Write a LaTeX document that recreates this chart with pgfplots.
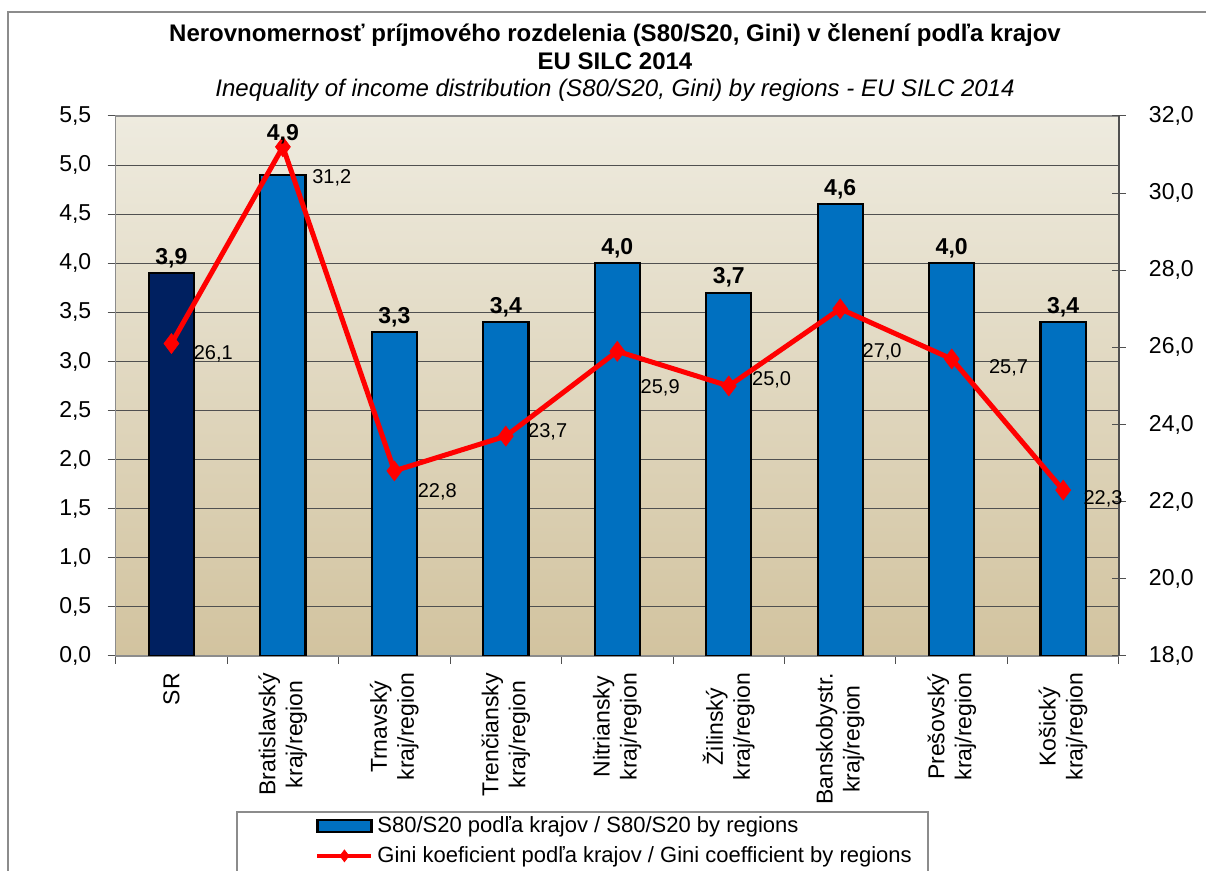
\documentclass[border=0pt]{standalone}
\usepackage{pgfplots}
\usepackage{pgfplotstable}
\pgfplotsset{compat=1.18}
\usepackage{fontspec}
\setmainfont{Liberation Sans}
\definecolor{barblue}{HTML}{0070C0}
\definecolor{bardark}{HTML}{002060}
\definecolor{bgtop}{HTML}{EEEBDF}
\definecolor{bgmid}{HTML}{E6DFCA}
\definecolor{bgbot}{HTML}{D2C39F}
\definecolor{gridc}{HTML}{505050}
\definecolor{framec}{HTML}{8C8C8C}
\pgfplotsset{/pgf/number format/.cd, use comma, fixed, fixed zerofill, precision=1, assume math mode=true}
\pgfplotsset{
  barleg/.style={legend image code/.code={\draw[##1] (0pt,-3pt) rectangle (27pt,3pt);}},
  lineleg/.style={legend image code/.code={\draw[mark repeat=2, mark phase=2, ##1, line width=2pt, mark size=3pt] plot coordinates {(0pt,0pt) (13.5pt,0pt) (27pt,0pt)};}},
  invisible marks/.style={only marks, mark=*, mark size=0pt, mark options={draw=none, fill=none, opacity=0}},
}

\pgfplotstableread{
x y ly
0 3.9 0
}\srdata
\pgfplotstableread{
x y ly
1 4.9 12.5
2 3.3 0
3 3.4 0
4 4.0 0
5 3.7 0
6 4.6 0
7 4.0 0
8 3.4 0
}\regdata
\pgfplotstableread{
x y dx dy
0 26.1 11 -5
1 31.2 14.5 -15.5
2 22.8 11.5 -10.5
3 23.7 11 2
4 25.9 11.5 -18.5
5 25.0 11.5 3
6 27.0 11 -21.5
7 25.7 18.5 -4.5
8 22.3 10 -4.5
}\ginidata

\newcommand{\fs}{\fontsize{11.5}{13.5}\selectfont}
\begin{document}
\begin{tikzpicture}
\path[use as bounding box, clip] (0pt,0pt) rectangle (603pt,435.5pt);
\draw[framec, line width=0.8pt] (4pt,-10pt) -- (4pt,429.5pt) -- (620pt,429.5pt);
\node[font=\fontsize{12}{14}\selectfont\bfseries, anchor=base, inner sep=0pt] at (307.5pt,414.5pt) {Nerovnomernosť príjmového rozdelenia (S80/S20, Gini) v členení podľa krajov};
\node[font=\fontsize{12}{14}\selectfont\bfseries, anchor=base, inner sep=0pt] at (307.5pt,400.5pt) {EU SILC 2014};
\node[font=\fontsize{12}{14}\selectfont\itshape, anchor=base, inner sep=0pt] at (307.5pt,387pt) {Inequality of income distribution (S80/S20, Gini) by regions - EU SILC 2014};

\begin{axis}[
  at={(57.85pt,107.5pt)}, anchor=south west,
  scale only axis, width=501.6pt, height=270pt,
  xmin=-0.5, xmax=8.5, ymin=0, ymax=5.5,
  ytick={0,0.5,1,1.5,2,2.5,3,3.5,4,4.5,5,5.5},
  xtick={0,1,2,3,4,5,6,7,8},
  xticklabels={SR,{Bratislavský\\kraj/region},{Trnavský\\kraj/region},{Trenčiansky\\kraj/region},{Nitriansky\\kraj/region},{Žilinský\\kraj/region},{Banskobystr.\\kraj/region},{Prešovský\\kraj/region},{Košický\\kraj/region}},
  minor xtick={-0.5,0.5,1.5,2.5,3.5,4.5,5.5,6.5,7.5,8.5},
  major x tick style={draw=none},
  minor x tick style={draw=gridc, line width=0.5pt},
  tick pos=left, tick align=outside,
  major tick length=4pt, minor tick length=4pt,
  ymajorgrids, major grid style={draw=gridc, line width=0.5pt},
  axis line style={draw=framec, line width=0.6pt},
  y tick style={draw=gridc, line width=0.5pt},
  axis background/.style={top color=bgtop, middle color=bgmid, bottom color=bgbot},
  ticklabel style={font=\fs},
  yticklabel style={xshift=-4.7pt},
  xticklabel style={rotate=90, anchor=east, align=center, xshift=-1pt},
  ybar, bar width=0.405,
]
\addplot[fill=bardark, draw=black, line width=1.1pt, bar shift=0pt] table[x=x,y=y] {\srdata};
\addplot[fill=barblue, draw=black, line width=1.1pt, bar shift=0pt] table[x=x,y=y] {\regdata};
\end{axis}

\begin{axis}[
  at={(57.85pt,107.5pt)}, anchor=south west,
  scale only axis, width=501.6pt, height=270pt,
  xmin=-0.5, xmax=8.5, ymin=18, ymax=32,
  ytick={18,20,22,24,26,28,30,32},
  axis x line=none, axis y line*=right,
  y axis line style={draw=gridc, line width=0.7pt, -},
  tick align=center, major tick length=7pt,
  y tick style={draw=gridc, line width=0.5pt},
  yticklabel style={font=\fs, xshift=8pt},
  legend style={at={(0.1987,-0.289)}, anchor=north west, draw=none, fill=none,
    inner sep=0pt, row sep=1.5pt, font=\fontsize{11}{13}\selectfont},
  legend cell align=left,
]
\addlegendimage{fill=barblue, draw=black, line width=1.1pt, barleg}
\addlegendentry{S80/S20 podľa krajov / S80/S20 by regions}
\addplot[red, line width=2.5pt, mark=diamond*, mark size=5pt, mark options={solid, draw=red, fill=red, line width=0.3pt}, lineleg] table[x=x,y=y] {\ginidata};
\addlegendentry{Gini koeficient podľa krajov / Gini coefficient by regions}
\addplot[forget plot, invisible marks,
  visualization depends on={\thisrow{dx} \as \dx},
  visualization depends on={\thisrow{dy} \as \dy},
  nodes near coords,
  every node near coord/.append style={font=\fontsize{10}{12}\selectfont, black, opacity=1, anchor=west, inner sep=0pt, xshift=\dx pt, yshift=\dy pt},
] table[x=x,y=y] {\ginidata};
\end{axis}

\begin{axis}[
  at={(57.85pt,107.5pt)}, anchor=south west,
  scale only axis, width=501.6pt, height=270pt,
  xmin=-0.5, xmax=8.5, ymin=0, ymax=5.5,
  hide axis,
  nodes near coords,
  visualization depends on={\thisrow{ly} \as \ly},
  every node near coord/.append style={font=\fs\bfseries, black, opacity=1, anchor=south, inner sep=2.5pt, yshift=\ly pt},
]
\addplot[invisible marks] table[x=x,y=y] {\srdata};
\addplot[invisible marks] table[x=x,y=y] {\regdata};
\end{axis}
\draw[framec, line width=0.8pt] (118.5pt,-10pt) -- (118.5pt,29.5pt) -- (464pt,29.5pt) -- (464pt,-10pt);
\end{tikzpicture}
\end{document}
